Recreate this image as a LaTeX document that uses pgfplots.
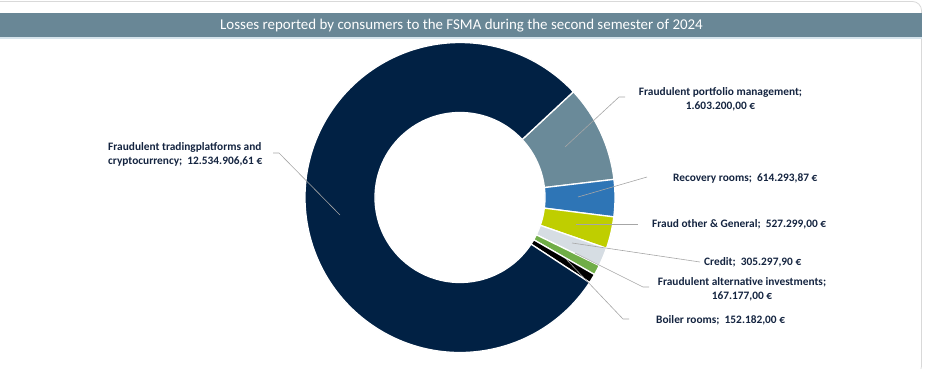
\documentclass[border=0pt]{standalone}
\usepackage{pgfplots}
\pgfplotsset{compat=1.18}
\usepackage{fontspec}
\setmainfont{Carlito}
\definecolor{cTrade}{RGB}{1,33,68}
\definecolor{cPort}{RGB}{106,138,153}
\definecolor{cRec}{RGB}{46,117,182}
\definecolor{cOther}{RGB}{191,206,0}
\definecolor{cCredit}{RGB}{214,221,227}
\definecolor{cAlt}{RGB}{112,173,71}
\definecolor{cBoiler}{RGB}{0,0,0}
\definecolor{cBar}{RGB}{105,135,150}
\definecolor{cBarLine}{RGB}{214,228,236}
\definecolor{cTxt}{RGB}{20,36,64}
\definecolor{cLead}{RGB}{166,166,166}
\definecolor{cFrame}{RGB}{217,217,217}
% values in thousands of euro, clockwise from the top-right
\def\slices{1603.2/cPort, 614.29387/cRec, 527.299/cOther, 305.2979/cCredit, 167.177/cAlt, 152.182/cBoiler, 12534.90661/cTrade}
\begin{document}
\begin{tikzpicture}
\gdef\total{0}
\foreach \v/\c in \slices {\pgfmathsetmacro\t{\total+\v}\global\let\total\t}
\begin{axis}[scale only axis, width=925bp, height=369bp,
  xmin=0, xmax=925, ymin=0, ymax=369, y dir=reverse,
  axis lines=none, clip=false]
% frame
\draw[cFrame, line width=0.8pt, rounded corners=9bp] (axis cs:-10,1.5) rectangle (axis cs:921.5,375);
% title bar
\fill[cBar] (axis cs:0,13.3) rectangle (axis cs:922,37.3);
\fill[cBarLine] (axis cs:0,37.3) rectangle (axis cs:922,39);
\node[text=white, font=\fontsize{15}{17}\selectfont] at (axis cs:461.5,25.5) {Losses reported by consumers to the FSMA during the second semester of 2024};
% donut
\gdef\cum{0}
\foreach \v/\c in \slices {
  \pgfmathsetmacro\aA{43-\cum/\total*360}
  \pgfmathsetmacro\aB{43-(\cum+\v)/\total*360}
  \edef\doit{\noexpand\fill[\c, draw=white, line width=1.3pt, line join=miter]
    ([shift={(\aA:155bp)}]axis cs:460,197.5) arc[start angle=\aA, end angle=\aB, radius=155bp]
    -- ([shift={(\aB:85bp)}]axis cs:460,197.5) arc[start angle=\aB, end angle=\aA, radius=85bp] -- cycle;}
  \doit
  \pgfmathsetmacro\t{\cum+\v}\global\let\cum\t
}
% leader lines
\draw[cLead, line width=0.6pt] (axis cs:565,147) -- (axis cs:619,97) -- (axis cs:625,97);
\draw[cLead, line width=0.6pt] (axis cs:578,197) -- (axis cs:647,177);
\draw[cLead, line width=0.6pt] (axis cs:576,224) -- (axis cs:638,224);
\draw[cLead, line width=0.6pt] (axis cs:572,243) -- (axis cs:700,262);
\draw[cLead, line width=0.6pt] (axis cs:575,253) -- (axis cs:643,287) -- (axis cs:649,287);
\draw[cLead, line width=0.6pt] (axis cs:566,259) -- (axis cs:623,319) -- (axis cs:629,319);
\draw[cLead, line width=0.6pt] (axis cs:273,153) -- (axis cs:279,153) -- (axis cs:340,215);
% labels
\tikzset{lab/.style={text=cTxt, font=\bfseries\fontsize{11.4}{14}\selectfont, inner sep=0pt}}
\node[lab, align=center] at (axis cs:720.5,99) {Fraudulent portfolio management;\\1.603.200,00 €};
\node[lab, anchor=west] at (axis cs:673,178) {Recovery rooms;\ \ 614.293,87 €};
\node[lab, anchor=west] at (axis cs:652,224.5) {Fraud other \& General;\ \ 527.299,00 €};
\node[lab, anchor=west] at (axis cs:704,262) {Credit;\ \ 305.297,90 €};
\node[lab, align=center] at (axis cs:742,289) {Fraudulent alternative investments;\\167.177,00 €};
\node[lab, anchor=west] at (axis cs:656,320) {Boiler rooms;\ \ 152.182,00 €};
\node[lab, align=left, anchor=west] at (axis cs:108,154.5) {Fraudulent tradingplatforms and\\cryptocurrency;\ \ 12.534.906,61 €};
\end{axis}
\pgfresetboundingbox
\path (current axis.south west) rectangle (current axis.north east);
\end{tikzpicture}
\end{document}
